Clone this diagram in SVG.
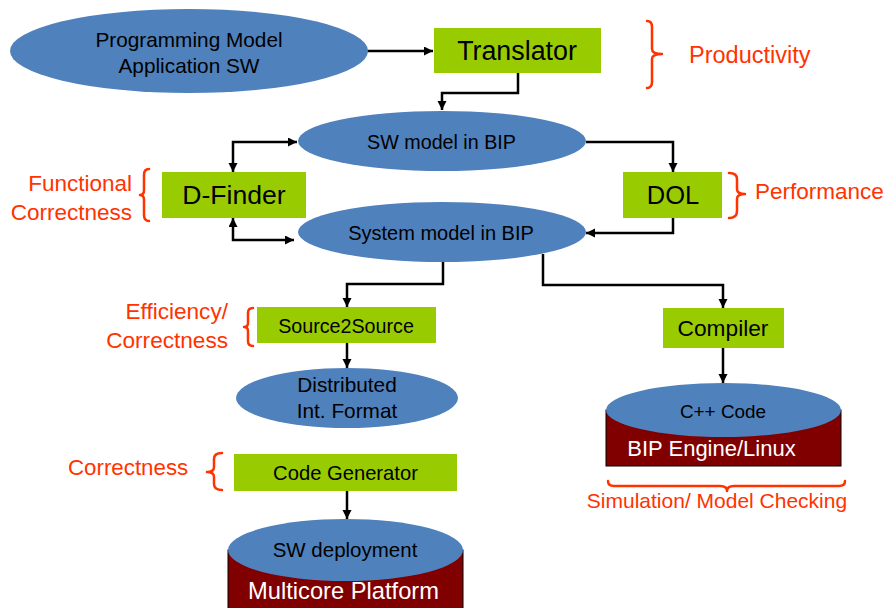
<svg xmlns="http://www.w3.org/2000/svg" width="887" height="608" viewBox="0 0 887 608">
  <style>
    .ell { fill: #4F81BD; }
    .box { fill: #99CC00; }
    .body { fill: #800000; stroke: #000; stroke-width: 1; }
    .t { font-family: "Liberation Sans", Arial, sans-serif; fill: #000; text-anchor: middle; }
    .w { font-family: "Liberation Sans", Arial, sans-serif; fill: #fff; text-anchor: middle; }
    .note { font-family: "Liberation Sans", Arial, sans-serif; fill: #FF3300; }
    .brace { fill: none; stroke: #FF3300; stroke-width: 2.5; stroke-linejoin: round; stroke-linecap: round; }
    .conn { fill: none; stroke: #000; stroke-width: 2.5; }
  </style>
  <defs>
    <marker id="arrow" markerUnits="userSpaceOnUse" markerWidth="10" markerHeight="10" refX="9" refY="4.5" orient="auto-start-reverse">
      <path d="M0,0 L9,4.5 L0,9 z" fill="#000"/>
    </marker>
  </defs>
  <rect width="887" height="608" fill="#fff"/>

  <!-- connectors -->
  <g id="connectors">
    <path class="conn" d="M367 51 H433" marker-end="url(#arrow)"/>
    <path class="conn" d="M518 73 V93 H442 V110" marker-end="url(#arrow)"/>
    <path class="conn" d="M586 142 H673 V172" marker-end="url(#arrow)"/>
    <path class="conn" d="M297 142 H233 V172" marker-start="url(#arrow)" marker-end="url(#arrow)"/>
    <path class="conn" d="M233 218 V240 H294" marker-start="url(#arrow)" marker-end="url(#arrow)"/>
    <path class="conn" d="M673 218 V233 H586" marker-end="url(#arrow)"/>
    <path class="conn" d="M443 262 V284 H347 V307" marker-end="url(#arrow)"/>
    <path class="conn" d="M543 254 V285 H723 V308" marker-end="url(#arrow)"/>
    <path class="conn" d="M347 343 V368" marker-end="url(#arrow)"/>
    <path class="conn" d="M723 348 V383" marker-end="url(#arrow)"/>
    <path class="conn" d="M347 491 V519" marker-end="url(#arrow)"/>
  </g>

  <g id="programming-model">
    <ellipse class="ell" cx="189" cy="51" rx="179" ry="42"/>
    <text class="t" x="189" y="47" font-size="20.8">Programming Model</text>
    <text class="t" x="189" y="73" font-size="20.8">Application SW</text>
  </g>

  <g id="translator">
    <rect class="box" x="434" y="28" width="167" height="45"/>
    <text class="t" x="517" y="60" font-size="26.8">Translator</text>
  </g>

  <g id="productivity">
    <path class="brace" d="M647 21 Q652 21 652 27 L652 49 Q652 54 662 54 Q652 54 652 59 L652 82 Q652 88 647 88"/>
    <text class="note" x="689" y="63" font-size="23.5">Productivity</text>
  </g>

  <g id="sw-model">
    <ellipse class="ell" cx="442" cy="141" rx="144" ry="30"/>
    <text class="t" x="441.5" y="149" font-size="19.7">SW model in BIP</text>
  </g>

  <g id="d-finder">
    <rect class="box" x="162" y="172" width="144" height="46"/>
    <text class="t" x="234" y="204" font-size="26.6">D-Finder</text>
  </g>

  <g id="functional-correctness">
    <path class="brace" d="M149 169 Q144 169 144 175 L144 190 Q144 195 140 195 Q144 195 144 200 L144 215 Q144 221 149 221"/>
    <text class="note" x="132" y="191" font-size="22.5" text-anchor="end">Functional</text>
    <text class="note" x="132" y="220" font-size="22.5" text-anchor="end">Correctness</text>
  </g>

  <g id="dol">
    <rect class="box" x="623" y="172" width="99" height="46"/>
    <text class="t" x="673" y="204" font-size="25.5">DOL</text>
  </g>

  <g id="performance">
    <path class="brace" d="M729 173 Q737 173 737 179 L737 189 Q737 194 745 194 Q737 194 737 199 L737 211 Q737 218 729 218"/>
    <text class="note" x="755" y="199" font-size="22.5">Performance</text>
  </g>

  <g id="system-model">
    <ellipse class="ell" cx="442" cy="232" rx="144" ry="30"/>
    <text class="t" x="441" y="240" font-size="20">System model in BIP</text>
  </g>

  <g id="source2source">
    <rect class="box" x="257" y="307" width="179" height="36"/>
    <text class="t" x="346" y="333" font-size="19.7">Source2Source</text>
  </g>

  <g id="efficiency-correctness">
    <path class="brace" d="M253 308 Q248 308 248 313 L248 323 Q248 327 244 327 Q248 327 248 331 L248 341 Q248 346 253 346"/>
    <text class="note" x="228" y="319" font-size="22.6" text-anchor="end">Efficiency/</text>
    <text class="note" x="228" y="348" font-size="22.6" text-anchor="end">Correctness</text>
  </g>

  <g id="distributed-format">
    <ellipse class="ell" cx="347" cy="398" rx="111" ry="30"/>
    <text class="t" x="347" y="392" font-size="20.8">Distributed</text>
    <text class="t" x="347" y="418" font-size="20.8">Int. Format</text>
  </g>

  <g id="compiler">
    <rect class="box" x="663" y="308" width="121" height="40"/>
    <text class="t" x="723" y="336" font-size="22.7">Compiler</text>
  </g>

  <g id="cpp-code">
    <rect class="body" x="606" y="410" width="235" height="56"/>
    <ellipse class="ell" cx="723.5" cy="410" rx="117.5" ry="27"/>
    <text class="t" x="723" y="418" font-size="18.9">C++ Code</text>
    <text class="w" x="711.5" y="456" font-size="22">BIP Engine/Linux</text>
  </g>

  <g id="simulation">
    <path class="brace" d="M608 481 Q608 486 614 486 L720 486 Q727 486 727 491 Q727 486 734 486 L839 486 Q845 486 845 481"/>
    <text class="note" x="717" y="508" font-size="21" text-anchor="middle">Simulation/ Model Checking</text>
  </g>

  <g id="code-generator">
    <rect class="box" x="234" y="454" width="223" height="37"/>
    <text class="t" x="345.5" y="480" font-size="20.2">Code Generator</text>
  </g>

  <g id="correctness">
    <path class="brace" d="M222 453 Q214 453 214 459 L214 467 Q214 472 207 472 Q214 472 214 477 L214 484 Q214 490 222 490"/>
    <text class="note" x="68" y="475" font-size="22.3">Correctness</text>
  </g>

  <g id="sw-deployment">
    <rect class="body" x="228" y="550" width="235" height="62"/>
    <ellipse class="ell" cx="345.5" cy="550" rx="117.5" ry="31"/>
    <text class="t" x="345" y="557" font-size="20.5">SW deployment</text>
    <text class="w" x="343.5" y="599" font-size="23.7">Multicore Platform</text>
  </g>
</svg>
